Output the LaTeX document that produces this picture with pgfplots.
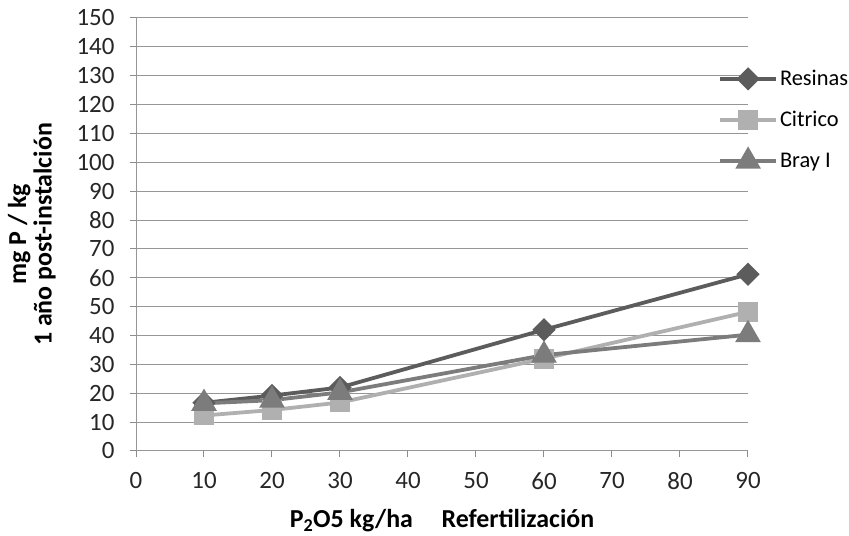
\documentclass[border=0pt]{standalone}
\usepackage{fontspec}
\setmainfont{Carlito}
\usepackage{pgfplots}
\pgfplotsset{compat=1.18}
\definecolor{cres}{RGB}{92,92,92}
\definecolor{ccit}{RGB}{176,176,176}
\definecolor{cbray}{RGB}{124,124,124}
\definecolor{cgrid}{RGB}{150,150,150}
\begin{document}
\begin{tikzpicture}
\path[use as bounding box] (0,0) rectangle (849bp,536bp);
\begin{axis}[
  at={(136bp,85bp)}, anchor=south west,
  scale only axis, width=612bp, height=433bp,
  xmin=0, xmax=90, ymin=0, ymax=150,
  xtick={0,10,...,90}, ytick={0,10,...,150},
  axis x line*=bottom, axis y line*=left,
  axis line style={cgrid, line width=1bp, -},
  ymajorgrids, grid style={cgrid, line width=1bp},
  tick style={line width=1bp, black!45},
  tick align=outside, major tick length=6bp,
  every tick label/.append style={font=\fontsize{25}{28}\selectfont, text=black!85},
  /pgf/number format/assume math mode=true,
  xticklabel style={yshift=-12bp},
  yticklabel style={xshift=-12bp},
  xlabel={\textbf{P\textsubscript{2}O5 kg/ha\hspace{1.1em}Refertilización}},
  ylabel={\shortstack{\textbf{mg P / kg}\\[0bp]\textbf{1 año post-instalción}}},
  label style={font=\fontsize{26}{29}\selectfont},
  xlabel style={yshift=-13bp},
  ylabel style={yshift=14bp},
  clip=false,
  legend style={at={(0.951,0.884)}, anchor=north west, draw=none, fill=none,
    font=\fontsize{22.5}{27}\selectfont, row sep=20bp, inner sep=0pt,
    /tikz/every even column/.append style={column sep=0bp}},
  legend cell align=left,
  legend image code/.code={\draw[mark repeat=2,mark phase=2,#1] plot coordinates {(0bp,0bp) (28bp,0bp) (56bp,0bp)};},
]
\addplot[cres, line width=3.8bp, mark=square*, mark size=6.3bp, mark options={rotate=45, solid, fill=cres}]
  coordinates {(10,16.7) (20,19.2) (30,22) (60,42) (90,61.2)};
\addlegendentry{Resinas}
\addplot[ccit, line width=3.8bp, mark=square*, mark size=8bp, mark options={solid, fill=ccit}]
  coordinates {(10,12.3) (20,14.2) (30,16.8) (60,32) (90,48.2)};
\addlegendentry{Citrico}
\addplot[cbray, line width=3.8bp, mark=triangle*, mark size=11bp, mark options={solid, fill=cbray}]
  coordinates {(10,16.5) (20,17.6) (30,20.3) (60,33.2) (90,40.3)};
\addlegendentry{Bray I}
\end{axis}
\end{tikzpicture}
\end{document}
